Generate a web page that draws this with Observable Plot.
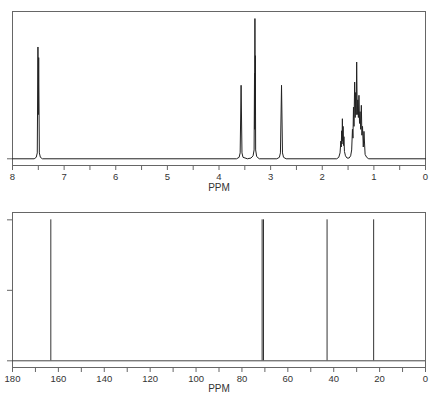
<!DOCTYPE html>
<html><head><meta charset="utf-8">
<script src="https://cdn.jsdelivr.net/npm/d3@7"></script>
<script src="https://cdn.jsdelivr.net/npm/@observablehq/plot@0.6"></script>
<style>
body{margin:0;background:#fff;}
#wrap{position:relative;width:438px;height:400px;}
#wrap > svg{position:absolute;left:0;}
</style></head><body><div id="wrap"></div>
<script>
// 1H spectrum: chemical shift (ppm) and intensity (frame top = 100)
const hPpm = [8.00, 7.58, 7.54, 7.52, 7.507, 7.500, 7.493, 7.48, 7.46, 7.42,
  3.66, 3.61, 3.59, 3.572, 3.555, 3.535, 3.45,
  3.38, 3.34, 3.32, 3.312, 3.308, 3.304, 3.300, 3.296, 3.29, 3.27, 3.22,
  2.88, 2.83, 2.81, 2.789, 2.77, 2.75, 2.70,
  1.72, 1.68, 1.655, 1.64, 1.632, 1.624, 1.618, 1.61, 1.603, 1.596, 1.588, 1.58, 1.57, 1.55, 1.52,
  1.48, 1.45, 1.43, 1.415, 1.405, 1.395, 1.385, 1.372, 1.362, 1.352, 1.343, 1.333, 1.322, 1.312,
  1.300, 1.289, 1.278, 1.268, 1.255, 1.243, 1.232, 1.22, 1.205, 1.192, 1.17, 1.14, 1.10, 0.00];
const hInt = [0, 0, 1, 4, 75.9, 30, 68.7, 4, 1, 0,
  0, 1, 4, 49.9, 4, 1, 0,
  0.5, 2, 6, 58, 20, 95.2, 30, 70, 6, 1.5, 0,
  0, 1, 4, 49.9, 4, 1, 0,
  0, 1, 4, 12, 8, 19, 10, 27.2, 12, 22, 9, 15, 5, 2, 0.5,
  0.5, 2, 6, 20, 14, 35, 22, 52.1, 28, 45, 30, 65.7, 30, 40,
  28, 43.1, 24, 32, 20, 36.3, 16, 22, 8, 18.6, 3, 1, 0, 0];

// 13C spectrum: peak positions (ppm) and relative heights
const cPpm = [163.3, 71.2, 70.6, 42.9, 22.6];
const cInt = [1, 1, 1, 1, 1];

// ticks
const hTicks = [8, 7.5, 7, 6.5, 6, 5.5, 5, 4.5, 4, 3.5, 3, 2.5, 2, 1.5, 1, 0.5, 0];
const cTicks = [180, 170, 160, 150, 140, 130, 120, 110, 100, 90, 80, 70, 60, 50, 40, 30, 20, 10, 0];
const axisTitle = "PPM";

const hData = hPpm.map((p, i) => ({ppm: p, v: hInt[i]}));
const cData = cPpm.map((p, i) => ({ppm: p, v: cInt[i]}));

const plotStyle = {fontFamily: '"Liberation Sans", Arial, sans-serif', fontSize: "9.5px", color: "#333", background: "white", overflow: "visible"};
const frameColor = "#666";

const hPlot = Plot.plot({
  width: 438, height: 200,
  marginLeft: 12, marginRight: 13, marginTop: 11, marginBottom: 35,
  style: plotStyle,
  x: {domain: [8, 0]},
  y: {domain: [-4.56, 100]},
  marks: [
    Plot.frame({stroke: frameColor}),
    Plot.axisX({ticks: hTicks, tickSize: 5, tickPadding: 2.5, stroke: frameColor, label: null,
      tickFormat: d => (d % 1 === 0 ? String(d) : "")}),
    Plot.axisY({ticks: [0], tickSize: 5, stroke: frameColor, label: null, tickFormat: () => ""}),
    Plot.line(hData, {x: "ppm", y: "v", stroke: "#222", strokeWidth: 1}),
    Plot.text([axisTitle], {text: d => d, frameAnchor: "bottom", dy: 18.5, lineAnchor: "top", fill: "#333", fontSize: 10})
  ]
});

const cPlot = Plot.plot({
  width: 438, height: 200,
  marginLeft: 12, marginRight: 13, marginTop: 12, marginBottom: 33,
  style: plotStyle,
  x: {domain: [180, 0]},
  y: {domain: [-0.0475, 1.052]},
  marks: [
    Plot.frame({stroke: frameColor}),
    Plot.axisX({ticks: cTicks, tickSize: 5, tickPadding: 2.5, stroke: frameColor, label: null,
      tickFormat: d => (d % 20 === 0 ? String(d) : "")}),
    Plot.axisY({ticks: [0, 0.5, 1], tickSize: 5, stroke: frameColor, label: null, tickFormat: () => ""}),
    Plot.ruleY([0], {stroke: "#444"}),
    Plot.ruleX(cData, {x: "ppm", y1: 0, y2: "v", stroke: "#333"}),
    Plot.text([axisTitle], {text: d => d, frameAnchor: "bottom", dy: 17.5, lineAnchor: "top", fill: "#333", fontSize: 10})
  ]
});

hPlot.style.top = "0px";
cPlot.style.top = "200px";
document.getElementById("wrap").append(hPlot, cPlot);
</script>
</body></html>
